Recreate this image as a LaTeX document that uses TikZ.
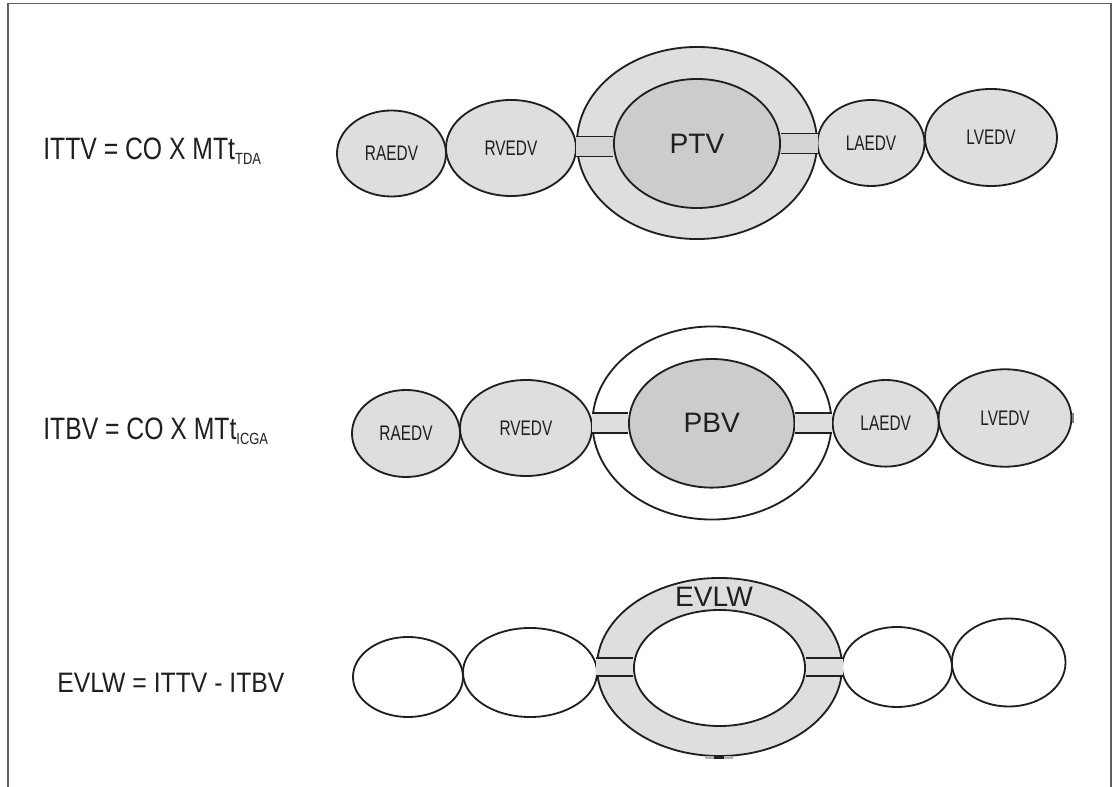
\documentclass[tikz,border=0pt]{standalone}
\usepackage{fontspec}
\setmainfont{Liberation Sans}
\newfontfamily\narrowfont[FakeStretch=0.73]{Liberation Sans}
\newfontfamily\eqfont[FakeStretch=0.8]{Liberation Sans}
\newfontfamily\diffont[FakeStretch=0.88]{Liberation Sans}
\usetikzlibrary{shapes.geometric}
\definecolor{shadeLight}{RGB}{222,222,222}
\definecolor{shadeDark}{RGB}{204,204,204}
\definecolor{barShade}{RGB}{212,212,212}
\definecolor{frameGray}{RGB}{95,95,95}
\definecolor{inkBlack}{RGB}{35,30,30}
\newcommand{\lowsub}[1]{\raisebox{-3.5pt}{\fontsize{11.5}{12}\selectfont #1}}

\begin{document}
\begin{tikzpicture}[
    x=0.025cm, y=-0.025cm,
    oval/.style 2 args={ellipse, minimum width=#1*0.05cm, minimum height=#2*0.05cm, inner sep=0pt},
    chamber/.style={draw=inkBlack, line width=1.3pt, fill=shadeLight, text=inkBlack, font=\fontsize{15}{18}\narrowfont},
    ring/.style={draw=inkBlack, line width=1.3pt, fill=shadeLight},
    core/.style={draw=inkBlack, line width=1.3pt, fill=shadeDark, text=inkBlack, font=\fontsize{20}{24}\selectfont},
    bar/.style={draw=inkBlack, line width=1.2pt, double=#1, double distance=13pt},
    bar/.default=barShade,
    eq/.style={anchor=base west, inner sep=0pt, text=inkBlack, font=\fontsize{22}{26}\eqfont},
]
\useasboundingbox (0,0) rectangle (1114,787);
\draw[frameGray, line width=1.2pt] (8,787) -- (8,3.5) -- (1111,3.5) -- (1111,787);

% Equations
\node[eq] (ittv) at (43,160) {ITTV = CO X MTt\lowsub{TDA}};
\node[eq] (itbv) at (43,440) {ITBV = CO X MTt\lowsub{ICGA}};
\node[eq, font=\fontsize{20}{24}\diffont] (evlweq) at (57,692) {EVLW = ITTV - ITBV};

% TTV row
\node[ring, oval={120}{96}] (outerA) at (697,143) {};
\node[core, oval={83}{64.5}] (ptv) at (697,143.5) {PTV};
\node[chamber, oval={54.5}{43}] (raA) at (391.5,153.5) {RAEDV};
\node[chamber, oval={65}{48}] (rvA) at (511,148) {RVEDV};
\node[chamber, oval={53.5}{43}] (laA) at (871,143) {LAEDV};
\node[chamber, oval={66}{48.5}] (lvA) at (991,137.5) {LVEDV};
\draw[bar] (outerA.west |- 0,146.5) -- (ptv.west |- 0,146.5);
\draw[bar] (ptv.east) -- (outerA.east |- ptv.east);

% TBV row
\node[ring, fill=white, oval={119.5}{96.5}] (outerB) at (712,423) {};
\node[core, oval={82.7}{64.3}] (pbv) at (711.7,423.3) {PBV};
\node[chamber, oval={54}{43.5}] (raB) at (406,433.5) {RAEDV};
\node[chamber, oval={66}{48}] (rvB) at (526,428) {RVEDV};
\node[chamber, oval={53}{43.3}] (laB) at (885.7,423.3) {LAEDV};
\node[chamber, oval={66.4}{48.7}] (lvB) at (1005,418) {LVEDV};
\draw[bar=shadeLight] (outerB.west |- pbv.west) -- (pbv.west);
\draw[bar=shadeLight] (pbv.east) -- (outerB.east |- pbv.east);
\draw[gray, line width=1.2pt] (1073,413) -- (1073,423);

% EVLW row
\node[ring, oval={122.5}{89}] (outerC) at (719.5,667) {};
\node[core, fill=white, oval={85.5}{58}] (innerC) at (719.5,668) {};
\node[chamber, fill=white, oval={55}{40}] (raC) at (408,677) {};
\node[chamber, fill=white, oval={67}{44.5}] (rvC) at (530,672.5) {};
\node[chamber, fill=white, oval={55}{40}] (laC) at (897,667) {};
\node[chamber, fill=white, oval={56.8}{44}] (lvC) at (1008.7,662.5) {};
\draw[bar=shadeLight, double distance=11.5pt] (outerC.west) -- (innerC.west |- outerC.west);
\draw[bar=shadeLight, double distance=11.5pt] (innerC.east |- outerC.east) -- (outerC.east);
\node[text=inkBlack, font=\fontsize{20}{24}\selectfont] (evlw) at (714,597) {EVLW};
\fill[gray!60] (705,755.5) rectangle (733,759);
\fill[inkBlack] (714,755.5) rectangle (724,759);
\end{tikzpicture}
\end{document}
